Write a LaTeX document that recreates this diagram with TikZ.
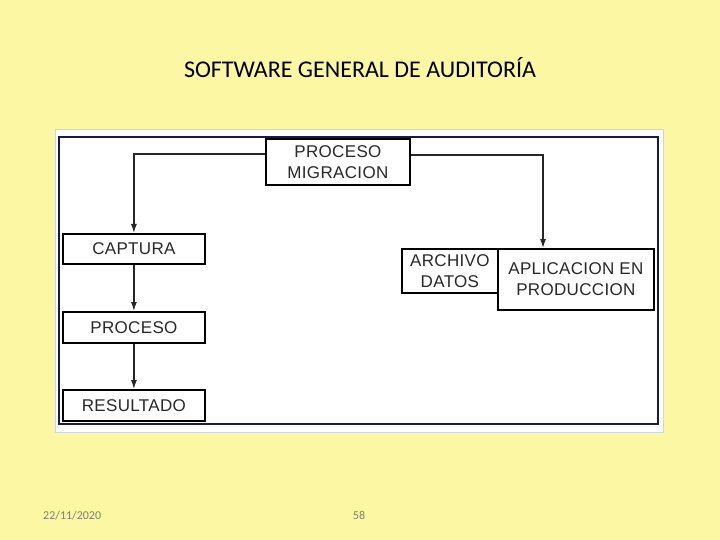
\documentclass[tikz,border=0pt]{standalone}
\usepackage{fontspec}
\setmainfont{Carlito}
\newfontfamily\boxfont[LetterSpace=2]{Liberation Sans}
\usetikzlibrary{arrows.meta}
\definecolor{slidebg}{RGB}{251,247,163}
\definecolor{framenavy}{RGB}{24,24,88}
\definecolor{paleedge}{RGB}{205,212,232}
\definecolor{boxtext}{RGB}{40,40,40}
\definecolor{foottext}{RGB}{128,128,110}
\tikzset{
  flowbox/.style={draw=black, line width=1.8pt, fill=white, inner sep=0pt, anchor=north west,
    text=boxtext, font=\boxfont\fontsize{17}{21}\selectfont, align=center},
  flowarrow/.style={draw=black!85, line width=1.2pt, -{Latex[length=9pt,width=6pt]}},
}
\begin{document}
\begin{tikzpicture}[x=1pt,y=-1pt]
\useasboundingbox[fill=slidebg] (0,0) rectangle (720,540);
% title and footer
\node (title) at (360,68) {\fontsize{24}{28}\selectfont SOFTWARE GENERAL DE AUDITORÍA};
\node[text=foottext, anchor=base west, inner sep=0pt] (date) at (43,519) {\fontsize{12}{14}\selectfont 22/11/2020};
\node[text=foottext, anchor=base, inner sep=0pt] (page) at (359,519) {\fontsize{12}{14}\selectfont 58};
% picture area
\draw[fill=white, draw=paleedge, line width=1pt] (55,130) rectangle (663,432);
\draw[draw=framenavy, line width=2pt] (59,137) rectangle (658,424);
% boxes
\node[flowbox, minimum width=144pt, minimum height=46pt] (pm) at (265,138) {PROCESO\\MIGRACION};
\node[flowbox, minimum width=142pt, minimum height=30pt] (cap) at (62,233) {CAPTURA};
\node[flowbox, minimum width=142pt, minimum height=31pt] (proc) at (62,311) {PROCESO};
\node[flowbox, minimum width=142pt, minimum height=31pt] (res) at (62,389) {RESULTADO};
\node[flowbox, minimum width=96pt, minimum height=44pt] (arch) at (401,248) {ARCHIVO\\DATOS};
\node[flowbox, minimum width=156pt, minimum height=61pt] (apl) at (497,248) {APLICACION EN\\PRODUCCION};
% connectors
\draw[flowarrow] (pm.west |- 0,154) -| (cap.north);
\draw[flowarrow] (pm.east |- 0,155) -| (543,0 |- apl.north);
\draw[flowarrow] (cap.south) -- (proc.north);
\draw[flowarrow] (proc.south) -- (res.north);
\end{tikzpicture}
\end{document}
